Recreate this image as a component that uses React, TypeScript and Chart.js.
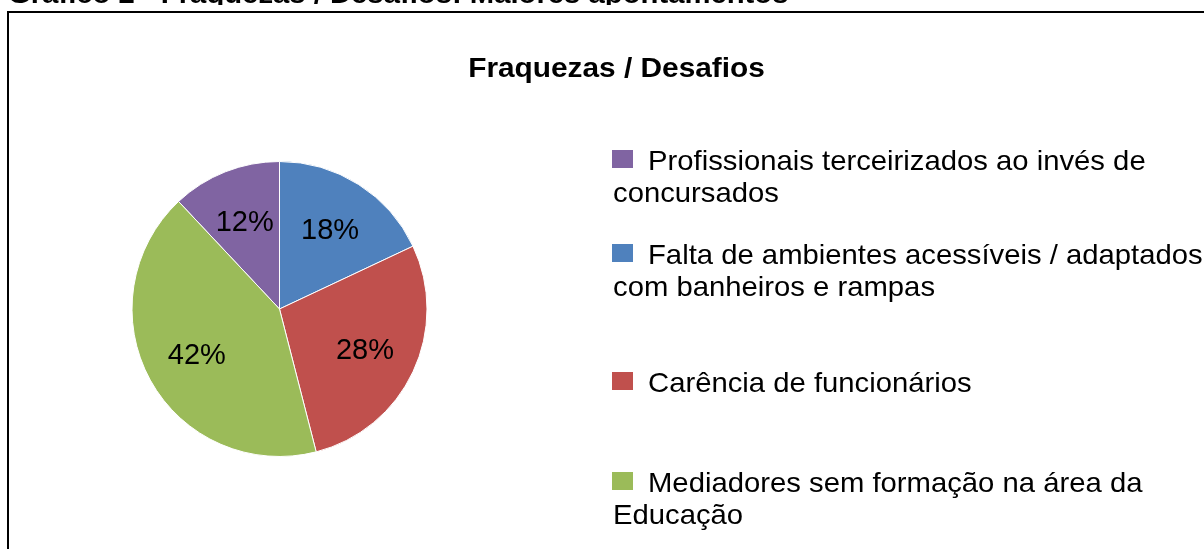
import React, { useEffect, useRef } from "react";
import { Chart, registerables } from "chart.js";

Chart.register(...registerables);

// ---- data ----
const heading = "Gráfico 2 - Fraquezas / Desafios: Maiores apontamentos";
const chartTitle = "Fraquezas / Desafios";
const categories: string[][] = [
  ["Profissionais terceirizados ao invés de", "concursados"],
  ["Falta de ambientes acessíveis / adaptados", "com banheiros e rampas"],
  ["Carência de funcionários"],
  ["Mediadores sem formação na área da", "Educação"],
];
const values = [12, 18, 28, 42];
const colors = ["#8064A2", "#4F81BD", "#C0504D", "#9BBB59"];

// ---- layout / style ----
const W = 1204;
const H = 549;
const FONT = '"Liberation Sans", Arial, Helvetica, sans-serif';
const LEGEND_BASELINES = [170, 264, 392, 492];
const LEGEND_LINE_H = 32;

function scaledText(
  ctx: CanvasRenderingContext2D,
  text: string,
  x: number,
  y: number,
  font: string,
  sx: number,
  align: CanvasTextAlign
) {
  ctx.save();
  ctx.translate(x, y);
  ctx.scale(sx, 1);
  ctx.font = font;
  ctx.textAlign = align;
  ctx.textBaseline = "alphabetic";
  ctx.fillStyle = "#000";
  ctx.fillText(text, 0, 0);
  ctx.restore();
}

const decorPlugin = {
  id: "decor",
  beforeDraw(chart: any) {
    const ctx: CanvasRenderingContext2D = chart.ctx;
    ctx.save();
    ctx.fillStyle = "#fff";
    ctx.fillRect(0, 0, W, H);
    // frame
    ctx.fillStyle = "#000";
    ctx.fillRect(7, 11, 2, H - 11);
    ctx.fillRect(7, 11, W - 7, 2);
    // cut heading at the top
    ctx.save();
    ctx.beginPath();
    ctx.rect(0, 0, W, 5);
    ctx.clip();
    scaledText(ctx, heading, 8, 3, `bold 28px ${FONT}`, 1.045, "left");
    ctx.restore();
    // chart title
    scaledText(ctx, chartTitle, 616.5, 77, `bold 28px ${FONT}`, 1.065, "center");
    // legend
    categories.forEach((lines, i) => {
      const base = LEGEND_BASELINES[i];
      ctx.fillStyle = colors[i];
      ctx.fillRect(612, base - 20, 21, 18);
      lines.forEach((ln, j) => {
        scaledText(
          ctx,
          ln,
          j === 0 ? 648 : 613,
          base + j * LEGEND_LINE_H,
          `28px ${FONT}`,
          1.045,
          "left"
        );
      });
    });
    ctx.restore();
  },
  afterDatasetsDraw(chart: any) {
    const ctx: CanvasRenderingContext2D = chart.ctx;
    const meta = chart.getDatasetMeta(0);
    const total = values.reduce((a, b) => a + b, 0);
    ctx.save();
    ctx.font = `29px ${FONT}`;
    ctx.fillStyle = "#000";
    ctx.textAlign = "center";
    ctx.textBaseline = "middle";
    meta.data.forEach((arc: any, i: number) => {
      const p = arc.getProps(["x", "y", "startAngle", "endAngle", "outerRadius"], true);
      const mid = (p.startAngle + p.endAngle) / 2;
      const r = p.outerRadius * 0.64;
      const label = Math.round((values[i] / total) * 100) + "%";
      ctx.fillText(label, p.x + Math.cos(mid) * r, p.y + Math.sin(mid) * r + 2);
    });
    ctx.restore();
  },
};

export default function App() {
  const ref = useRef<HTMLCanvasElement | null>(null);

  useEffect(() => {
    if (!ref.current) return;
    const total = values.reduce((a, b) => a + b, 0);
    const chart = new Chart(ref.current, {
      type: "pie",
      data: {
        labels: categories,
        datasets: [
          {
            data: values,
            backgroundColor: colors,
            borderColor: "#ffffff",
            borderWidth: 1,
          },
        ],
      },
      options: {
        animation: false,
        responsive: false,
        maintainAspectRatio: false,
        devicePixelRatio: 1,
        rotation: -(values[0] / total) * 360,
        layout: {
          padding: { left: 131.5, right: 776.5, top: 161, bottom: 92 },
        },
        plugins: {
          legend: { display: false },
          title: { display: false },
          tooltip: { enabled: false },
        },
      },
      plugins: [decorPlugin],
    } as any);
    return () => chart.destroy();
  }, []);

  return (
    <div
      style={{
        position: "fixed",
        left: 0,
        top: 0,
        width: W,
        height: H,
        background: "#fff",
      }}
    >
      <canvas ref={ref} width={W} height={H} style={{ display: "block" }} />
    </div>
  );
}
